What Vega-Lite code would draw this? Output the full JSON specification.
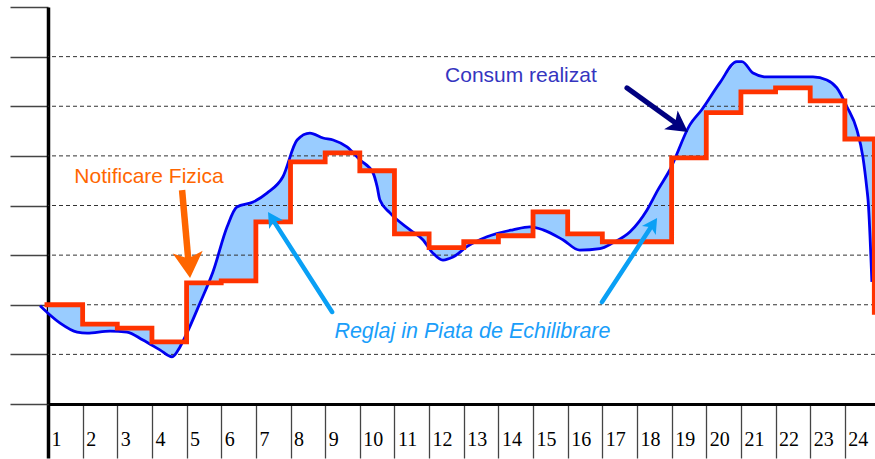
{
  "$schema": "https://vega.github.io/schema/vega-lite/v6.json",
  "width": 827,
  "height": 397,
  "autosize": {"type": "none"},
  "padding": {"left": 48, "top": 7, "right": 0, "bottom": 55},
  "background": "white",
  "config": {"view": {"stroke": null}},
  "datasets": {
    "fill": [
      {"x": 0, "c": 1.83, "n": 2.00}, {"x": 0.35, "c": 1.63, "n": 2.00}, {"x": 0.84, "c": 1.45, "n": 2.00}, {"x": 1, "c": 1.44, "n": 2.00},
      {"x": 1, "c": 1.44, "n": 1.61}, {"x": 1.13, "c": 1.43, "n": 1.61}, {"x": 1.79, "c": 1.47, "n": 1.61}, {"x": 2, "c": 1.46, "n": 1.61},
      {"x": 2, "c": 1.46, "n": 1.53}, {"x": 2.28, "c": 1.45, "n": 1.53}, {"x": 2.74, "c": 1.29, "n": 1.53}, {"x": 3, "c": 1.19, "n": 1.53},
      {"x": 3, "c": 1.19, "n": 1.25}, {"x": 3.23, "c": 1.09, "n": 1.25}, {"x": 3.58, "c": 0.95, "n": 1.25}, {"x": 3.81, "c": 1.15, "n": 1.25}, {"x": 4, "c": 1.42, "n": 1.25},
      {"x": 4, "c": 1.42, "n": 2.44}, {"x": 4.39, "c": 2.04, "n": 2.44}, {"x": 4.76, "c": 2.66, "n": 2.44}, {"x": 5, "c": 3.19, "n": 2.44},
      {"x": 5, "c": 3.19, "n": 2.48}, {"x": 5.17, "c": 3.57, "n": 2.48}, {"x": 5.45, "c": 3.97, "n": 2.48}, {"x": 5.92, "c": 4.07, "n": 2.48}, {"x": 6, "c": 4.11, "n": 2.48},
      {"x": 6, "c": 4.11, "n": 3.67}, {"x": 6.32, "c": 4.25, "n": 3.67}, {"x": 6.78, "c": 4.58, "n": 3.67}, {"x": 7, "c": 4.98, "n": 3.67},
      {"x": 7, "c": 4.98, "n": 4.88}, {"x": 7.19, "c": 5.32, "n": 4.88}, {"x": 7.56, "c": 5.46, "n": 4.88}, {"x": 7.94, "c": 5.36, "n": 4.88}, {"x": 8, "c": 5.35, "n": 4.88},
      {"x": 8, "c": 5.35, "n": 5.06}, {"x": 8.23, "c": 5.32, "n": 5.06}, {"x": 8.63, "c": 5.18, "n": 5.06}, {"x": 9, "c": 4.92, "n": 5.06},
      {"x": 9, "c": 4.92, "n": 4.70}, {"x": 9.38, "c": 4.66, "n": 4.70}, {"x": 9.5, "c": 4.38, "n": 4.70}, {"x": 9.58, "c": 4.11, "n": 4.70}, {"x": 9.87, "c": 3.85, "n": 4.70}, {"x": 10, "c": 3.77, "n": 4.70},
      {"x": 10, "c": 3.77, "n": 3.43}, {"x": 10.45, "c": 3.51, "n": 3.43}, {"x": 10.82, "c": 3.31, "n": 3.43}, {"x": 11, "c": 3.14, "n": 3.43},
      {"x": 11, "c": 3.14, "n": 3.15}, {"x": 11.11, "c": 3.04, "n": 3.15}, {"x": 11.4, "c": 2.90, "n": 3.15}, {"x": 11.69, "c": 2.96, "n": 3.15}, {"x": 12, "c": 3.12, "n": 3.15},
      {"x": 12, "c": 3.12, "n": 3.27}, {"x": 12.09, "c": 3.17, "n": 3.27}, {"x": 12.67, "c": 3.37, "n": 3.27}, {"x": 13, "c": 3.43, "n": 3.27},
      {"x": 13, "c": 3.43, "n": 3.39}, {"x": 13.42, "c": 3.51, "n": 3.39}, {"x": 13.91, "c": 3.57, "n": 3.39}, {"x": 14, "c": 3.56, "n": 3.39},
      {"x": 14, "c": 3.56, "n": 3.87}, {"x": 14.29, "c": 3.51, "n": 3.87}, {"x": 14.86, "c": 3.31, "n": 3.87}, {"x": 15, "c": 3.25, "n": 3.87},
      {"x": 15, "c": 3.25, "n": 3.43}, {"x": 15.35, "c": 3.10, "n": 3.43}, {"x": 15.93, "c": 3.13, "n": 3.43}, {"x": 16, "c": 3.15, "n": 3.43},
      {"x": 16, "c": 3.15, "n": 3.27}, {"x": 16.31, "c": 3.25, "n": 3.27}, {"x": 16.8, "c": 3.47, "n": 3.27}, {"x": 17, "c": 3.65, "n": 3.27},
      {"x": 17, "c": 3.65, "n": 3.27}, {"x": 17.29, "c": 3.91, "n": 3.27}, {"x": 17.6, "c": 4.31, "n": 3.27}, {"x": 17.95, "c": 4.72, "n": 3.27}, {"x": 18, "c": 4.80, "n": 3.27},
      {"x": 18, "c": 4.80, "n": 4.96}, {"x": 18.53, "c": 5.63, "n": 4.96}, {"x": 18.87, "c": 5.93, "n": 4.96}, {"x": 19, "c": 6.07, "n": 4.96},
      {"x": 19, "c": 6.07, "n": 5.87}, {"x": 19.39, "c": 6.47, "n": 5.87}, {"x": 19.88, "c": 6.90, "n": 5.87}, {"x": 20, "c": 6.90, "n": 5.87},
      {"x": 20, "c": 6.90, "n": 6.29}, {"x": 20.03, "c": 6.90, "n": 6.29}, {"x": 20.35, "c": 6.67, "n": 6.29}, {"x": 20.75, "c": 6.59, "n": 6.29}, {"x": 21, "c": 6.59, "n": 6.29},
      {"x": 21, "c": 6.59, "n": 6.37}, {"x": 21.5, "c": 6.59, "n": 6.37}, {"x": 22, "c": 6.59, "n": 6.37},
      {"x": 22, "c": 6.59, "n": 6.11}, {"x": 22.08, "c": 6.59, "n": 6.11}, {"x": 22.48, "c": 6.53, "n": 6.11}, {"x": 22.77, "c": 6.37, "n": 6.11}, {"x": 23, "c": 6.06, "n": 6.11},
      {"x": 23, "c": 6.06, "n": 5.34}, {"x": 23.06, "c": 5.99, "n": 5.34}, {"x": 23.35, "c": 5.52, "n": 5.34}, {"x": 23.52, "c": 4.98, "n": 5.34}, {"x": 23.64, "c": 4.31, "n": 5.34}, {"x": 23.67, "c": 4.11, "n": 5.34}, {"x": 23.78, "c": 2.46, "n": 5.34}
    ],
    "consum": [
      {"x": -0.23, "c": 1.98}, {"x": 0, "c": 1.83}, {"x": 0.35, "c": 1.63}, {"x": 0.84, "c": 1.45}, {"x": 1.13, "c": 1.43},
      {"x": 1.79, "c": 1.47}, {"x": 2.28, "c": 1.45}, {"x": 2.74, "c": 1.29}, {"x": 3.23, "c": 1.09}, {"x": 3.58, "c": 0.95},
      {"x": 3.81, "c": 1.15}, {"x": 4.01, "c": 1.43}, {"x": 4.39, "c": 2.04}, {"x": 4.76, "c": 2.66}, {"x": 5.17, "c": 3.57},
      {"x": 5.45, "c": 3.97}, {"x": 5.92, "c": 4.07}, {"x": 6.32, "c": 4.25}, {"x": 6.78, "c": 4.58}, {"x": 7.19, "c": 5.32},
      {"x": 7.56, "c": 5.46}, {"x": 7.94, "c": 5.36}, {"x": 8.23, "c": 5.32}, {"x": 8.63, "c": 5.18}, {"x": 9.0, "c": 4.92},
      {"x": 9.38, "c": 4.66}, {"x": 9.5, "c": 4.38}, {"x": 9.58, "c": 4.11}, {"x": 9.87, "c": 3.85}, {"x": 10.45, "c": 3.51},
      {"x": 10.82, "c": 3.31}, {"x": 11.11, "c": 3.04}, {"x": 11.4, "c": 2.90}, {"x": 11.69, "c": 2.96}, {"x": 12.09, "c": 3.17},
      {"x": 12.67, "c": 3.37}, {"x": 13.42, "c": 3.51}, {"x": 13.91, "c": 3.57}, {"x": 14.29, "c": 3.51}, {"x": 14.86, "c": 3.31},
      {"x": 15.35, "c": 3.10}, {"x": 15.93, "c": 3.13}, {"x": 16.31, "c": 3.25}, {"x": 16.8, "c": 3.47}, {"x": 17.29, "c": 3.91},
      {"x": 17.6, "c": 4.31}, {"x": 17.95, "c": 4.72}, {"x": 18.53, "c": 5.63}, {"x": 18.87, "c": 5.93}, {"x": 19.39, "c": 6.47},
      {"x": 19.88, "c": 6.90}, {"x": 20.03, "c": 6.90}, {"x": 20.35, "c": 6.67}, {"x": 20.75, "c": 6.59}, {"x": 22.08, "c": 6.59},
      {"x": 22.48, "c": 6.53}, {"x": 22.77, "c": 6.37}, {"x": 23.06, "c": 5.99}, {"x": 23.35, "c": 5.52}, {"x": 23.52, "c": 4.98},
      {"x": 23.64, "c": 4.31}, {"x": 23.67, "c": 4.11}, {"x": 23.78, "c": 2.46}
    ],
    "notif": [
      {"x": -0.1, "n": 2.00}, {"x": 1, "n": 1.61}, {"x": 2, "n": 1.53}, {"x": 3, "n": 1.25}, {"x": 4, "n": 2.44},
      {"x": 5, "n": 2.48}, {"x": 6, "n": 3.67}, {"x": 7, "n": 4.88}, {"x": 8, "n": 5.06}, {"x": 9, "n": 4.70},
      {"x": 10, "n": 3.43}, {"x": 11, "n": 3.15}, {"x": 12, "n": 3.27}, {"x": 13, "n": 3.39}, {"x": 14, "n": 3.87},
      {"x": 15, "n": 3.43}, {"x": 16, "n": 3.27}, {"x": 17, "n": 3.27}, {"x": 18, "n": 4.96}, {"x": 19, "n": 5.87},
      {"x": 20, "n": 6.29}, {"x": 21, "n": 6.37}, {"x": 22, "n": 6.11}, {"x": 23, "n": 5.34}, {"x": 23.85, "n": 1.80}
    ]
  },
  "layer": [
    {
      "data": {"name": "fill"},
      "mark": {"type": "area", "color": "#99CCFF", "interpolate": "linear"},
      "encoding": {
        "x": {
          "field": "x", "type": "quantitative", "title": null,
          "scale": {"domain": [0, 23.87], "nice": false, "zero": false},
          "axis": {
            "values": [0, 1, 2, 3, 4, 5, 6, 7, 8, 9, 10, 11, 12, 13, 14, 15, 16, 17, 18, 19, 20, 21, 22, 23],
            "tickCount": 40,
            "labelExpr": "datum.value + 1",
            "domain": true, "domainColor": "#000000", "domainWidth": 3,
            "ticks": true, "tickSize": 54,
            "tickColor": {"condition": {"test": "datum.value === 0", "value": "#000000"}, "value": "#444444"},
            "tickWidth": {"condition": {"test": "datum.value === 0", "value": 3.5}, "value": 1.3},
            "labelFont": "Liberation Serif", "labelFontSize": 20, "labelColor": "#000000",
            "labelAlign": "left", "labelBaseline": "alphabetic", "labelPadding": -13, "labelOffset": 3,
            "labelFlush": false, "labelOverlap": false, "labelBound": false, "grid": false
          }
        },
        "y": {
          "field": "c", "type": "quantitative", "title": null,
          "scale": {"domain": [0, 8], "nice": false, "zero": true},
          "axis": {
            "values": [0, 1, 2, 3, 4, 5, 6, 7, 8],
            "tickCount": 20,
            "labels": false, "domain": true, "domainColor": "#000000", "domainWidth": 3.5,
            "ticks": true, "tickSize": 38, "tickColor": "#444444", "tickWidth": 1.3, "grid": false
          }
        },
        "y2": {"field": "n"},
        "order": {"value": null}
      }
    },
    {
      "data": {"values": [{"g": 1}, {"g": 2}, {"g": 3}, {"g": 4}, {"g": 5}, {"g": 6}, {"g": 7}]},
      "mark": {"type": "rule", "color": "#333333", "strokeWidth": 1, "strokeDash": [4, 3]},
      "encoding": {"y": {"field": "g", "type": "quantitative", "title": null}}
    },
    {
      "data": {"name": "consum"},
      "mark": {"type": "line", "color": "#0000F0", "strokeWidth": 2.8, "interpolate": "monotone"},
      "encoding": {
        "x": {"field": "x", "type": "quantitative", "title": null},
        "y": {"field": "c", "type": "quantitative", "title": null}
      }
    },
    {
      "data": {"name": "notif"},
      "mark": {"type": "line", "color": "#FF3300", "strokeWidth": 4.8, "interpolate": "step-after"},
      "encoding": {
        "x": {"field": "x", "type": "quantitative", "title": null},
        "y": {"field": "n", "type": "quantitative", "title": null}
      }
    },
    {
      "data": {"values": [{"x": 16.71, "y": 6.37, "x2": 18.10, "y2": 5.67}]},
      "mark": {"type": "rule", "color": "#000080", "strokeWidth": 5, "strokeCap": "round"},
      "encoding": {
        "x": {"field": "x", "type": "quantitative", "title": null},
        "y": {"field": "y", "type": "quantitative", "title": null},
        "x2": {"field": "x2"}, "y2": {"field": "y2"}
      }
    },
    {
      "data": {"values": [{"x": 18.47, "y": 5.48}]},
      "mark": {"type": "point", "shape": "M0,0L0.55,1L0,0.75L-0.55,1Z", "size": 1764, "angle": 125.8, "filled": true, "color": "#000080", "opacity": 1, "strokeWidth": 0},
      "encoding": {
        "x": {"field": "x", "type": "quantitative", "title": null},
        "y": {"field": "y", "type": "quantitative", "title": null}
      }
    },
    {
      "data": {"values": [{"x": 3.87, "y": 4.31, "x2": 4.05, "y2": 2.90}]},
      "mark": {"type": "rule", "color": "#FF6600", "strokeWidth": 6.5, "strokeCap": "butt"},
      "encoding": {
        "x": {"field": "x", "type": "quantitative", "title": null},
        "y": {"field": "y", "type": "quantitative", "title": null},
        "x2": {"field": "x2"}, "y2": {"field": "y2"}
      }
    },
    {
      "data": {"values": [{"x": 4.10, "y": 2.54}]},
      "mark": {"type": "point", "shape": "M0,0L0.58,1L0,0.75L-0.58,1Z", "size": 2704, "angle": 174.8, "filled": true, "color": "#FF6600", "opacity": 1, "strokeWidth": 0},
      "encoding": {
        "x": {"field": "x", "type": "quantitative", "title": null},
        "y": {"field": "y", "type": "quantitative", "title": null}
      }
    },
    {
      "data": {"values": [{"x": 8.20, "y": 1.854, "x2": 6.51, "y2": 3.69}, {"x": 15.99, "y": 2.055, "x2": 17.41, "y2": 3.57}]},
      "mark": {"type": "rule", "color": "#0AA0F5", "strokeWidth": 4.5, "strokeCap": "round"},
      "encoding": {
        "x": {"field": "x", "type": "quantitative", "title": null},
        "y": {"field": "y", "type": "quantitative", "title": null},
        "x2": {"field": "x2"}, "y2": {"field": "y2"}
      }
    },
    {
      "data": {"values": [{"x": 6.35, "y": 3.87}]},
      "mark": {"type": "point", "shape": "M0,0L0.55,1L0,0.75L-0.55,1Z", "size": 900, "angle": 327.4, "filled": true, "color": "#0AA0F5", "opacity": 1, "strokeWidth": 0},
      "encoding": {
        "x": {"field": "x", "type": "quantitative", "title": null},
        "y": {"field": "y", "type": "quantitative", "title": null}
      }
    },
    {
      "data": {"values": [{"x": 17.58, "y": 3.75}]},
      "mark": {"type": "point", "shape": "M0,0L0.55,1L0,0.75L-0.55,1Z", "size": 900, "angle": 33.2, "filled": true, "color": "#0AA0F5", "opacity": 1, "strokeWidth": 0},
      "encoding": {
        "x": {"field": "x", "type": "quantitative", "title": null},
        "y": {"field": "y", "type": "quantitative", "title": null}
      }
    },
    {
      "data": {"values": [{"t": "Consum realizat", "x": 13.65, "y": 6.495}]},
      "mark": {"type": "text", "font": "Liberation Sans", "fontSize": 21, "color": "#3535C0", "align": "center", "baseline": "alphabetic"},
      "encoding": {
        "x": {"field": "x", "type": "quantitative", "title": null},
        "y": {"field": "y", "type": "quantitative", "title": null},
        "text": {"field": "t"}
      }
    },
    {
      "data": {"values": [{"t": "Notificare Fizica", "x": 2.915, "y": 4.447}]},
      "mark": {"type": "text", "font": "Liberation Sans", "fontSize": 21, "color": "#FF6600", "align": "center", "baseline": "alphabetic"},
      "encoding": {
        "x": {"field": "x", "type": "quantitative", "title": null},
        "y": {"field": "y", "type": "quantitative", "title": null},
        "text": {"field": "t"}
      }
    },
    {
      "data": {"values": [{"t": "Reglaj in Piata de Echilibrare", "x": 12.25, "y": 1.33}]},
      "mark": {"type": "text", "font": "Liberation Sans", "fontSize": 21.5, "fontStyle": "italic", "color": "#1A9EFA", "align": "center", "baseline": "alphabetic"},
      "encoding": {
        "x": {"field": "x", "type": "quantitative", "title": null},
        "y": {"field": "y", "type": "quantitative", "title": null},
        "text": {"field": "t"}
      }
    }
  ]
}
